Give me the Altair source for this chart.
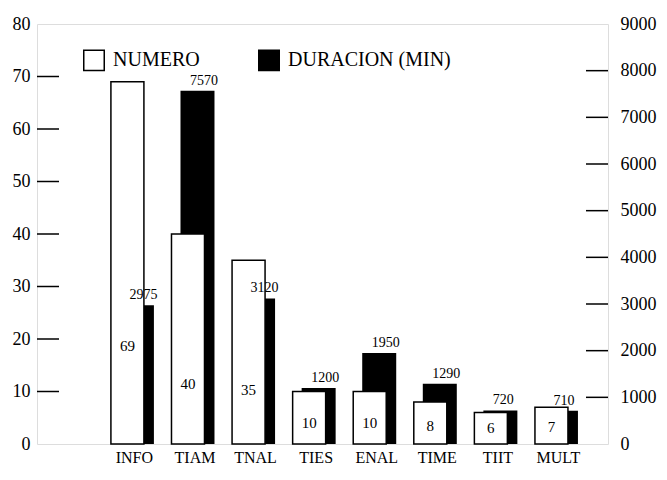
import altair as alt
import pandas as pd

categorias = ["INFO", "TIAM", "TNAL", "TIES", "ENAL", "TIME", "TIIT", "MULT"]
numero = [69, 40, 35, 10, 10, 8, 6, 7]
duracion = [2975, 7570, 3120, 1200, 1950, 1290, 720, 710]
ticks_izq = [10, 20, 30, 40, 50, 60, 70]
ticks_der = [1000, 2000, 3000, 4000, 5000, 6000, 7000, 8000]
etiquetas_izq = [0, 10, 20, 30, 40, 50, 60, 70, 80]
etiquetas_der = [0, 1000, 2000, 3000, 4000, 5000, 6000, 7000, 8000, 9000]
series = ["NUMERO", "DURACION (MIN)"]

df = pd.DataFrame({"cat": categorias, "numero": numero, "duracion": duracion})
df_ti = pd.DataFrame({"t": ticks_izq})
df_td = pd.DataFrame({"t": ticks_der})

SERIF = "Liberation Serif"

x_enc = alt.X(
    "cat:N", sort=categorias,
    scale=alt.Scale(paddingInner=0, paddingOuter=0.713, align=0.696),
    axis=alt.Axis(title=None, labelAngle=0, ticks=False, domain=False,
                  labelFont=SERIF, labelFontSize=16, labelColor="black",
                  labelPadding=5, labelOffset=7),
)

sc_izq = alt.Scale(domain=[0, 80], nice=False)
sc_der = alt.Scale(domain=[0, 9000], nice=False)

color_scale = alt.Scale(domain=series, range=["white", "black"])
legend = alt.Legend(
    title=None, orient="none", legendX=46, legendY=25, direction="horizontal",
    symbolType="square", symbolSize=420, symbolStrokeColor="black",
    symbolStrokeWidth=1.5, labelFont=SERIF, labelFontSize=20,
    labelColor="black", labelOffset=8, columnPadding=55, labelLimit=400,
)

negras = alt.Chart(df).transform_calculate(serie="'DURACION (MIN)'").mark_bar(
    width=34, xOffset=9.5, color="black"
).encode(
    x=x_enc,
    y=alt.Y("duracion:Q", scale=sc_der,
            axis=alt.Axis(orient="right", values=etiquetas_der, ticks=False,
                          domain=False, grid=False, title=None, labelFont=SERIF,
                          labelFontSize=18, labelColor="black", labelPadding=12,
                          format="d")),
    color=alt.Color("serie:N", scale=color_scale, legend=legend),
)

blancas = alt.Chart(df).transform_calculate(serie="'NUMERO'").mark_bar(
    width=33, stroke="black", strokeWidth=1.5
).encode(
    x=x_enc,
    y=alt.Y("numero:Q", scale=sc_izq,
            axis=alt.Axis(orient="left", values=etiquetas_izq, ticks=False,
                          domain=False, grid=False, title=None, labelFont=SERIF,
                          labelFontSize=18, labelColor="black", labelPadding=7,
                          format="d")),
    color=alt.Color("serie:N", scale=color_scale, legend=legend),
)

txt_blancas = alt.Chart(df).transform_calculate(
    ly="datum.numero*0.25+1.5"
).mark_text(font=SERIF, fontSize=15, color="black", baseline="middle").encode(
    x=x_enc,
    y=alt.Y("ly:Q", scale=sc_izq, axis=None),
    text=alt.Text("numero:Q"),
)

txt_negras = alt.Chart(df).mark_text(
    font=SERIF, fontSize=14, color="black", align="left", dx=2, dy=-10,
    baseline="middle"
).encode(
    x=x_enc,
    y=alt.Y("duracion:Q", scale=sc_der, axis=None),
    text=alt.Text("duracion:Q"),
)

marcas_izq = alt.Chart(df_ti).mark_rule(color="black", strokeWidth=1.5).encode(
    x=alt.value(0), x2=alt.value(22),
    y=alt.Y("t:Q", scale=sc_izq, axis=None),
)
marcas_der = alt.Chart(df_td).mark_rule(color="black", strokeWidth=1.5).encode(
    x=alt.value(549), x2=alt.value(571),
    y=alt.Y("t:Q", scale=sc_der, axis=None),
)

chart = alt.layer(
    negras, blancas, txt_blancas, txt_negras, marcas_izq, marcas_der
).resolve_scale(y="independent").properties(
    width=571, height=420, autosize="none",
    padding={"left": 29, "top": 16, "right": 50, "bottom": 26},
).configure_view(stroke="black", strokeWidth=1.5).configure(background="white")

chart.save("out.html", embed_options={"renderer": "svg", "actions": False})
